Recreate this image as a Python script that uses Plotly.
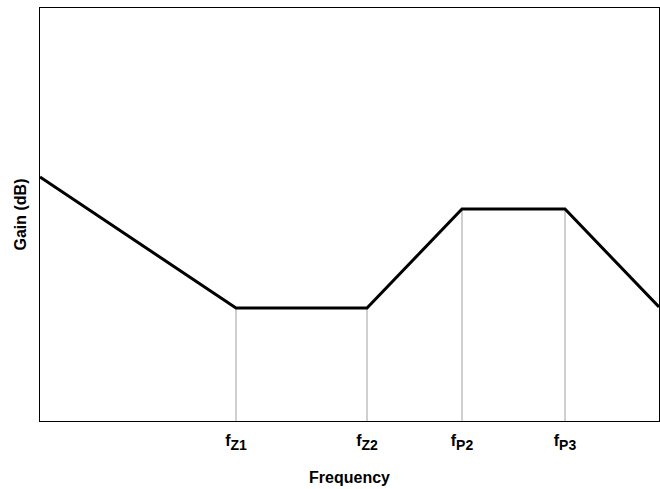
import plotly.graph_objects as go

# Data (arbitrary units)
freq = [0, 196, 327, 422, 525, 619]
gain = [244, 113, 113, 212, 212, 114]
break_freq = [196, 327, 422, 525]
break_gain = [113, 113, 212, 212]
tick_labels = ["Z1", "Z2", "P2", "P3"]

fig = go.Figure()

for xf, yg in zip(break_freq, break_gain):
    fig.add_trace(go.Scatter(x=[xf, xf], y=[0, yg], mode="lines",
                             line=dict(color="#a0a0a0", width=1),
                             hoverinfo="skip", showlegend=False))

fig.add_trace(go.Scatter(x=freq, y=gain, mode="lines",
                         line=dict(color="black", width=3),
                         showlegend=False))

font_family = "Liberation Sans, Arial, sans-serif"
ticktext = ["<b>f<sub><span style='font-size:14px'>" + t + "</span></sub></b>"
            for t in tick_labels]

fig.update_layout(
    width=660, height=489,
    margin=dict(l=40, r=1, t=8, b=68),
    paper_bgcolor="white", plot_bgcolor="white",
    font=dict(family=font_family, color="black"),
    xaxis=dict(
        range=[0, 619], showgrid=False, zeroline=False,
        showline=True, linecolor="black", linewidth=1, mirror=True,
        tickmode="array", tickvals=break_freq, ticktext=ticktext,
        tickfont=dict(size=16, family=font_family, color="black"),
        ticks="", ticklen=0, ticklabelstandoff=5,
        title=dict(text="<b>Frequency</b>", font=dict(size=16), standoff=20),
    ),
    yaxis=dict(
        range=[0, 413], showgrid=False, zeroline=False,
        showline=True, linecolor="black", linewidth=1, mirror=True,
        showticklabels=False, ticks="",
        title=dict(text="<b>Gain (dB)</b>", font=dict(size=16), standoff=8),
    ),
)

fig.write_html("out.html", config={"displayModeBar": False},
               post_script="document.body.style.margin='0';")
